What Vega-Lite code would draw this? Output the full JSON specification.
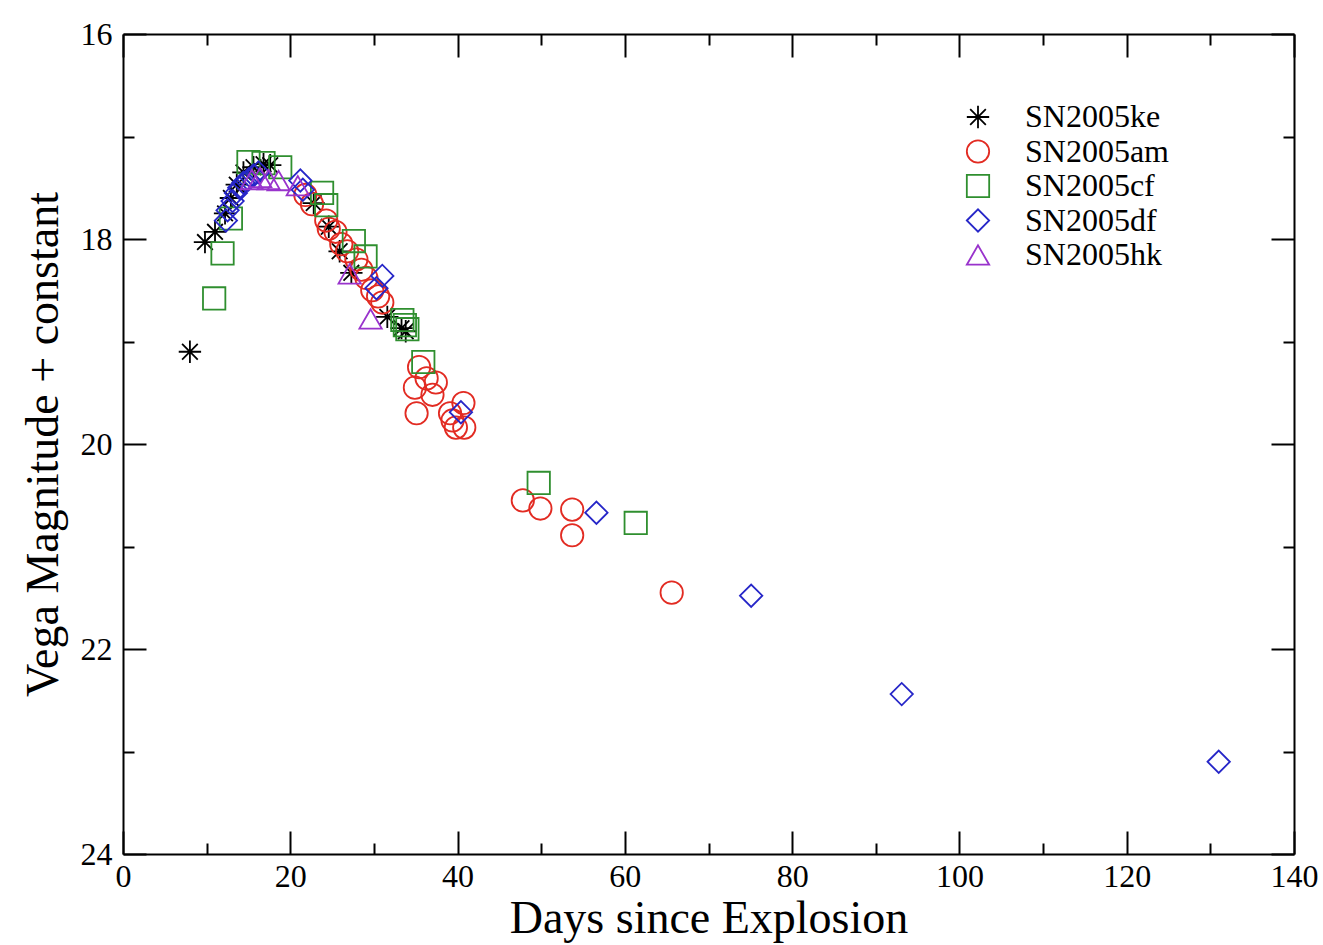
{
  "$schema": "https://vega.github.io/schema/vega-lite/v6.json",
  "width": 1171,
  "height": 820,
  "autosize": {"type": "none"},
  "padding": {"left": 123, "top": 34, "right": 29, "bottom": 91},
  "background": "white",
  "config": {"view": {"stroke": null}, "font": "Liberation Serif"},
  "data": {"values": [
    {"sn": "SN2005ke", "day": 8.0, "mag": 19.10},
    {"sn": "SN2005ke", "day": 9.8, "mag": 18.03},
    {"sn": "SN2005ke", "day": 11.0, "mag": 17.93},
    {"sn": "SN2005ke", "day": 12.2, "mag": 17.75},
    {"sn": "SN2005ke", "day": 12.9, "mag": 17.60},
    {"sn": "SN2005ke", "day": 13.6, "mag": 17.47},
    {"sn": "SN2005ke", "day": 14.4, "mag": 17.35},
    {"sn": "SN2005ke", "day": 15.6, "mag": 17.30},
    {"sn": "SN2005ke", "day": 16.8, "mag": 17.27},
    {"sn": "SN2005ke", "day": 17.6, "mag": 17.28},
    {"sn": "SN2005ke", "day": 22.8, "mag": 17.65},
    {"sn": "SN2005ke", "day": 24.6, "mag": 17.88},
    {"sn": "SN2005ke", "day": 25.9, "mag": 18.12},
    {"sn": "SN2005ke", "day": 27.3, "mag": 18.33},
    {"sn": "SN2005ke", "day": 31.6, "mag": 18.76},
    {"sn": "SN2005ke", "day": 33.3, "mag": 18.87},
    {"sn": "SN2005ke", "day": 33.8, "mag": 18.90},
    {"sn": "SN2005am", "day": 21.8, "mag": 17.57},
    {"sn": "SN2005am", "day": 22.6, "mag": 17.66},
    {"sn": "SN2005am", "day": 24.3, "mag": 17.82},
    {"sn": "SN2005am", "day": 24.6, "mag": 17.90},
    {"sn": "SN2005am", "day": 25.4, "mag": 17.93},
    {"sn": "SN2005am", "day": 26.1, "mag": 18.05},
    {"sn": "SN2005am", "day": 26.8, "mag": 18.12},
    {"sn": "SN2005am", "day": 27.9, "mag": 18.20},
    {"sn": "SN2005am", "day": 28.5, "mag": 18.30},
    {"sn": "SN2005am", "day": 29.1, "mag": 18.38},
    {"sn": "SN2005am", "day": 29.8, "mag": 18.50},
    {"sn": "SN2005am", "day": 30.5, "mag": 18.56},
    {"sn": "SN2005am", "day": 31.0, "mag": 18.62},
    {"sn": "SN2005am", "day": 35.4, "mag": 19.25},
    {"sn": "SN2005am", "day": 36.3, "mag": 19.36},
    {"sn": "SN2005am", "day": 34.9, "mag": 19.45},
    {"sn": "SN2005am", "day": 37.4, "mag": 19.40},
    {"sn": "SN2005am", "day": 37.0, "mag": 19.52},
    {"sn": "SN2005am", "day": 35.1, "mag": 19.70},
    {"sn": "SN2005am", "day": 39.1, "mag": 19.70},
    {"sn": "SN2005am", "day": 40.7, "mag": 19.60},
    {"sn": "SN2005am", "day": 39.4, "mag": 19.77},
    {"sn": "SN2005am", "day": 39.8, "mag": 19.84},
    {"sn": "SN2005am", "day": 40.8, "mag": 19.84},
    {"sn": "SN2005am", "day": 47.8, "mag": 20.55},
    {"sn": "SN2005am", "day": 49.9, "mag": 20.63},
    {"sn": "SN2005am", "day": 53.7, "mag": 20.64},
    {"sn": "SN2005am", "day": 53.7, "mag": 20.89},
    {"sn": "SN2005am", "day": 65.6, "mag": 21.45},
    {"sn": "SN2005cf", "day": 10.9, "mag": 18.58},
    {"sn": "SN2005cf", "day": 11.9, "mag": 18.14},
    {"sn": "SN2005cf", "day": 12.9, "mag": 17.80},
    {"sn": "SN2005cf", "day": 15.0, "mag": 17.25},
    {"sn": "SN2005cf", "day": 16.8, "mag": 17.26},
    {"sn": "SN2005cf", "day": 18.8, "mag": 17.30},
    {"sn": "SN2005cf", "day": 23.8, "mag": 17.55},
    {"sn": "SN2005cf", "day": 24.3, "mag": 17.67},
    {"sn": "SN2005cf", "day": 27.6, "mag": 18.02},
    {"sn": "SN2005cf", "day": 29.0, "mag": 18.17},
    {"sn": "SN2005cf", "day": 33.4, "mag": 18.79},
    {"sn": "SN2005cf", "day": 33.7, "mag": 18.84},
    {"sn": "SN2005cf", "day": 34.0, "mag": 18.88},
    {"sn": "SN2005cf", "day": 35.9, "mag": 19.20},
    {"sn": "SN2005cf", "day": 49.7, "mag": 20.38},
    {"sn": "SN2005cf", "day": 61.3, "mag": 20.77},
    {"sn": "SN2005df", "day": 12.3, "mag": 17.82},
    {"sn": "SN2005df", "day": 12.5, "mag": 17.72},
    {"sn": "SN2005df", "day": 13.1, "mag": 17.63},
    {"sn": "SN2005df", "day": 13.5, "mag": 17.55},
    {"sn": "SN2005df", "day": 13.9, "mag": 17.50},
    {"sn": "SN2005df", "day": 14.4, "mag": 17.45},
    {"sn": "SN2005df", "day": 15.0, "mag": 17.42},
    {"sn": "SN2005df", "day": 15.6, "mag": 17.38},
    {"sn": "SN2005df", "day": 16.2, "mag": 17.35},
    {"sn": "SN2005df", "day": 21.2, "mag": 17.43},
    {"sn": "SN2005df", "day": 21.5, "mag": 17.52},
    {"sn": "SN2005df", "day": 30.3, "mag": 18.48},
    {"sn": "SN2005df", "day": 31.0, "mag": 18.36},
    {"sn": "SN2005df", "day": 40.4, "mag": 19.69},
    {"sn": "SN2005df", "day": 56.6, "mag": 20.67},
    {"sn": "SN2005df", "day": 75.1, "mag": 21.48},
    {"sn": "SN2005df", "day": 93.1, "mag": 22.44},
    {"sn": "SN2005df", "day": 131.0, "mag": 23.10},
    {"sn": "SN2005hk", "day": 15.4, "mag": 17.42},
    {"sn": "SN2005hk", "day": 16.4, "mag": 17.40},
    {"sn": "SN2005hk", "day": 17.4, "mag": 17.42},
    {"sn": "SN2005hk", "day": 18.6, "mag": 17.43},
    {"sn": "SN2005hk", "day": 20.9, "mag": 17.48},
    {"sn": "SN2005hk", "day": 27.1, "mag": 18.34},
    {"sn": "SN2005hk", "day": 29.6, "mag": 18.78}
  ]},
  "layer": [
    {
      "mark": {"type": "point", "filled": false, "strokeWidth": 1.8, "size": 500, "opacity": 1},
      "encoding": {
        "x": {
          "field": "day", "type": "quantitative",
          "scale": {"domain": [0, 140], "nice": false, "zero": false},
          "axis": {
            "orient": "bottom",
            "values": [0, 10, 20, 30, 40, 50, 60, 70, 80, 90, 100, 110, 120, 130, 140],
            "tickSize": {"condition": {"test": "datum.value % 20 === 0", "value": -23}, "value": -11},
            "labelExpr": "datum.value % 20 === 0 ? datum.label : ''",
            "labelFontSize": 32, "labelFont": "Liberation Serif", "labelColor": "black",
            "labelPadding": 30, "labelFlush": false, "labelOverlap": false,
            "title": "Days since Explosion", "titleFontSize": 46, "titleFont": "Liberation Serif",
            "titleFontWeight": "normal", "titleColor": "black", "titlePadding": -8,
            "domainColor": "black", "domainWidth": 2, "tickColor": "black", "tickWidth": 2, "grid": false
          }
        },
        "y": {
          "field": "mag", "type": "quantitative",
          "scale": {"domain": [16, 24], "reverse": true, "nice": false, "zero": false},
          "axis": {
            "orient": "left",
            "values": [16, 17, 18, 19, 20, 21, 22, 23, 24],
            "tickSize": {"condition": {"test": "datum.value % 2 === 0", "value": -23}, "value": -11},
            "labelExpr": "datum.value % 2 === 0 ? datum.label : ''",
            "labelFontSize": 32, "labelFont": "Liberation Serif", "labelColor": "black",
            "labelPadding": 34, "labelFlush": false, "labelOverlap": false,
            "title": "Vega Magnitude + constant", "titleFontSize": 46, "titleFont": "Liberation Serif",
            "titleFontWeight": "normal", "titleColor": "black", "titlePadding": 13,
            "domainColor": "black", "domainWidth": 2, "tickColor": "black", "tickWidth": 2, "grid": false
          }
        },
        "color": {
          "field": "sn", "type": "nominal",
          "scale": {"domain": ["SN2005ke", "SN2005am", "SN2005cf", "SN2005df", "SN2005hk"],
                    "range": ["#000000", "#e22b22", "#2f8f2f", "#2626c8", "#9933cc"]},
          "legend": {"orient": "none", "legendX": 839, "legendY": 67, "title": null,
                     "labelFontSize": 32, "labelFont": "Liberation Serif", "labelColor": "black",
                     "symbolSize": 500, "symbolStrokeWidth": 1.8, "rowPadding": 2.5,
                     "labelOffset": 31, "padding": 0}
        },
        "shape": {
          "field": "sn", "type": "nominal",
          "scale": {"domain": ["SN2005ke", "SN2005am", "SN2005cf", "SN2005df", "SN2005hk"],
                    "range": ["M0,-1L0,1M-1,0L1,0M-0.7,-0.7L0.7,0.7M-0.7,0.7L0.7,-0.7", "circle", "square", "diamond", "triangle-up"]},
          "legend": {"orient": "none", "legendX": 839, "legendY": 67, "title": null,
                     "labelFontSize": 32, "labelFont": "Liberation Serif", "labelColor": "black",
                     "symbolSize": 500, "symbolStrokeWidth": 1.8, "rowPadding": 2.5,
                     "labelOffset": 31, "padding": 0}
        }
      }
    },
    {
      "mark": {"type": "point", "opacity": 0},
      "encoding": {
        "x": {
          "field": "day", "type": "quantitative",
          "axis": {
            "orient": "top",
            "values": [0, 10, 20, 30, 40, 50, 60, 70, 80, 90, 100, 110, 120, 130, 140],
            "tickSize": {"condition": {"test": "datum.value % 20 === 0", "value": -23}, "value": -11},
            "labels": false, "title": null,
            "domainColor": "black", "domainWidth": 2, "tickColor": "black", "tickWidth": 2, "grid": false
          }
        },
        "y": {
          "field": "mag", "type": "quantitative",
          "axis": {
            "orient": "right",
            "values": [16, 17, 18, 19, 20, 21, 22, 23, 24],
            "tickSize": {"condition": {"test": "datum.value % 2 === 0", "value": -23}, "value": -11},
            "labels": false, "title": null,
            "domainColor": "black", "domainWidth": 2, "tickColor": "black", "tickWidth": 2, "grid": false
          }
        }
      }
    }
  ]
}
